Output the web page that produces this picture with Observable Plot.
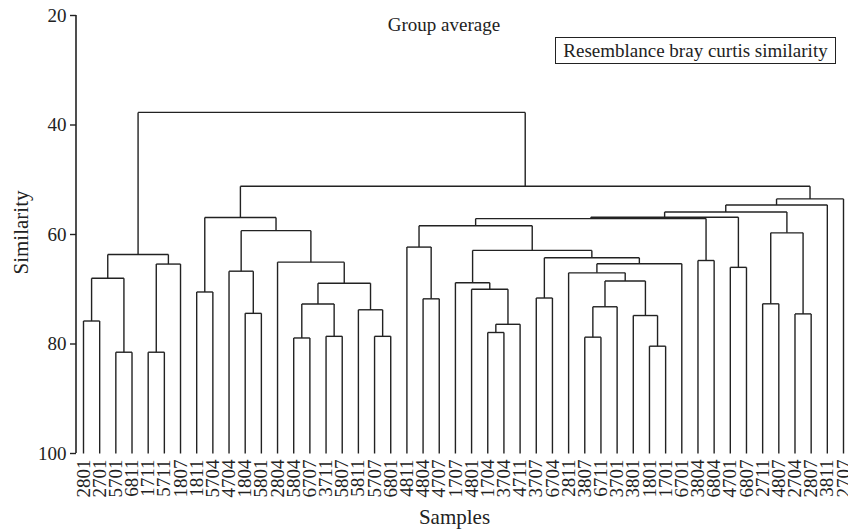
<!DOCTYPE html>
<html>
<head>
<meta charset="utf-8">
<script src="https://cdn.jsdelivr.net/npm/d3@7"></script>
<script src="https://cdn.jsdelivr.net/npm/@observablehq/plot@0.6"></script>
<style>
  html, body { margin: 0; padding: 0; background: #fff; }
  #wrap { position: relative; width: 848px; height: 531px; font-family: "Liberation Serif", "DejaVu Serif", serif; color: #222; }
  #title { position: absolute; left: 444px; top: 14px; transform: translateX(-50%); font-size: 19px; white-space: nowrap; }
  #box { position: absolute; left: 555px; top: 37px; width: 279px; height: 25px; border: 1.3px solid #222; font-size: 19px; line-height: 25px; text-align: center; white-space: nowrap; box-sizing: content-box; }
</style>
</head>
<body>
<div id="wrap">
  <div id="chart"></div>
  <div id="title">Group average</div>
  <div id="box">Resemblance bray curtis similarity</div>
</div>
<script>
// Leaf order (sample labels) along the x axis
const leaves = ["2801","2701","5701","6811","1711","5711","1807","1811","5704","4704","1804","5801",
  "2804","5804","6707","3711","5807","5811","5707","6801","4811","4804","4707","1707","4801","1704",
  "3704","4711","3707","6704","2811","3807","6711","3701","3801","1801","1701","6701","3804","6804",
  "4701","6807","2711","4807","2704","2807","3811","2707"];

// Merge steps: [node id, left child, right child, similarity]
const merges = [
  ["a1","2801","2701",75.8], ["a2","5701","6811",81.5], ["a3","a1","a2",68.0],
  ["a4","1711","5711",81.5], ["a5","a4","1807",65.4], ["A","a3","a5",63.65],
  ["b1","1811","5704",70.5], ["b2","1804","5801",74.4], ["b3","4704","b2",66.7],
  ["b4","5804","6707",78.9], ["b5","3711","5807",78.6], ["b6","b4","b5",72.7],
  ["b7","5707","6801",78.6], ["b8","5811","b7",73.75], ["b9","b6","b8",68.9],
  ["b10","2804","b9",65.05], ["b11","b3","b10",59.3], ["B","b1","b11",56.9],
  ["c1","4804","4707",71.75], ["c2","4811","c1",62.3],
  ["c3","1704","3704",77.9], ["c4","c3","4711",76.4], ["c5","4801","c4",70.0], ["c6","1707","c5",68.8],
  ["c7","3707","6704",71.6], ["c8","3807","6711",78.75], ["c9","c8","3701",73.2],
  ["c10","1801","1701",80.4], ["c11","3801","c10",74.8], ["c12","c9","c11",68.5],
  ["c13","2811","c12",67.0], ["c14","c13","6701",65.35], ["c15","c7","c14",64.26],
  ["c16","c6","c15",62.9], ["c17","c2","c16",58.4], ["c18","3804","6804",64.75],
  ["c19","c17","c18",57.1], ["c20","4701","6807",66.0], ["c21","c19","c20",56.84],
  ["c22","2711","4807",72.66], ["c23","2704","2807",74.5], ["c24","c22","c23",59.7],
  ["c25","c21","c24",55.9], ["c26","c25","3811",54.6], ["C","c26","2707",53.5],
  ["BC","B","C",51.2], ["root","A","BC",37.7]
];

const yTicks = [20, 40, 60, 80, 100];

// Build dendrogram segments from the merge table
const pos = new Map(leaves.map((d, i) => [d, {x: i, h: 100}]));
const segs = [];
for (const [id, a, b, h] of merges) {
  const A = pos.get(a), B = pos.get(b);
  segs.push({x1: A.x, y1: A.h, x2: A.x, y2: h});
  segs.push({x1: B.x, y1: B.h, x2: B.x, y2: h});
  segs.push({x1: A.x, y1: h, x2: B.x, y2: h});
  pos.set(id, {x: (A.x + B.x) / 2, h});
}

const ML = 76, MT = 15, H = 531, MB = 78;
const chart = Plot.plot({
  width: 848,
  height: H,
  marginTop: MT,
  marginBottom: MB,
  marginLeft: ML,
  marginRight: 4,
  style: {fontFamily: "Liberation Serif, DejaVu Serif, serif", fontSize: "19px", color: "#222", background: "white"},
  x: {type: "linear", domain: [0, leaves.length - 1], range: [83, 843]},
  y: {domain: [100, 20]},
  marks: [
    Plot.link(segs, {x1: "x1", y1: "y1", x2: "x2", y2: "y2", stroke: "#222", strokeWidth: 1.4}),
    Plot.axisY({ticks: yTicks, tickSize: 6, tickPadding: 4, label: null, strokeWidth: 1.4}),
    Plot.axisX({ticks: d3.range(leaves.length), tickFormat: i => leaves[i], tickRotate: -90, tickSize: 0, tickPadding: 6, label: null}),
    Plot.text(["Similarity"], {frameAnchor: "left", textAnchor: "middle", dx: -55, dy: -2, rotate: -90, fontSize: 21}),
    Plot.text(["Samples"], {frameAnchor: "bottom", textAnchor: "middle", dy: 70, dx: -6, fontSize: 21})
  ]
});
document.getElementById("chart").appendChild(chart);
// y axis domain line
d3.select(chart).append("line")
  .attr("x1", ML).attr("x2", ML).attr("y1", MT).attr("y2", H - MB)
  .attr("stroke", "#222").attr("stroke-width", 1.6);
</script>
</body>
</html>
